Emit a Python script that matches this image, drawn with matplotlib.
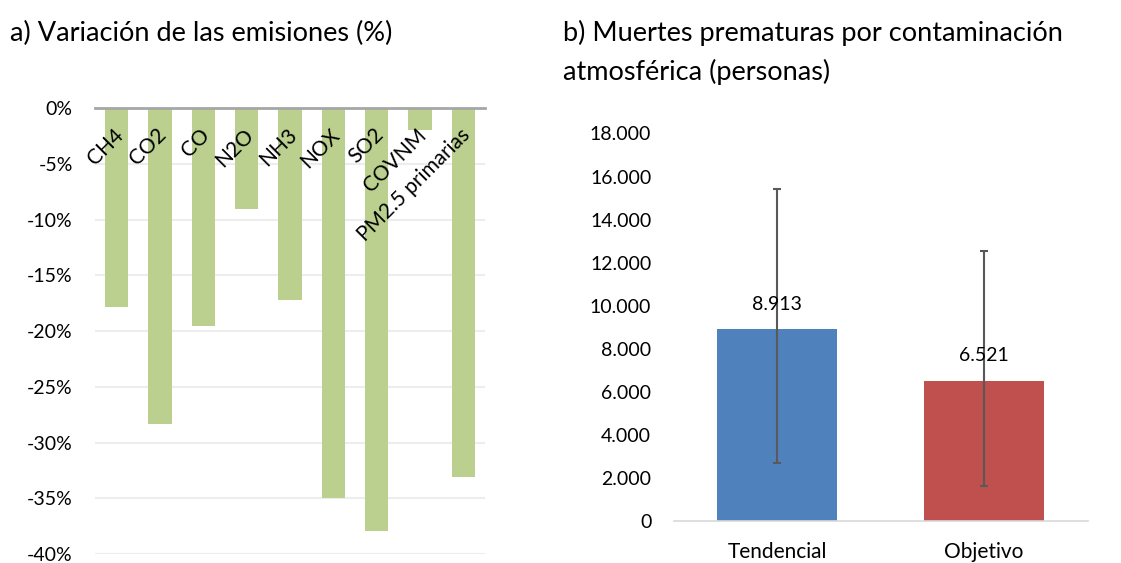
import matplotlib
matplotlib.use("Agg")
from matplotlib import pyplot as plt
from matplotlib.ticker import FuncFormatter

plt.rcParams["font.family"] = ["Lato", "DejaVu Sans"]

# panel a: emission change (%)
gases = ["CH4", "CO2", "CO", "N2O", "NH3", "NOX", "SO2", "COVNM", "PM2.5 primarias"]
variacion = [-17.8, -28.3, -19.5, -9.0, -17.2, -35.0, -37.9, -1.95, -33.1]

# panel b: premature deaths
escenarios = ["Tendencial", "Objetivo"]
muertes = [8913, 6521]
muertes_min = [2720, 1660]
muertes_max = [15420, 12560]
colores_b = ["#4F81BD", "#C0504D"]

W, H = 1121, 563
fig = plt.figure(figsize=(W / 100, H / 100), dpi=100)

# ---- a)
ax1 = fig.add_axes([95 / W, 1 - 554 / H, 390 / W, (554 - 108.3) / H])
x1 = range(len(gases))
ax1.bar(x1, variacion, width=0.54, color="#BBD08F", zorder=2)
ax1.set_xlim(-0.5, len(gases) - 0.5)
ax1.set_ylim(-40, 0)
ax1.set_yticks(range(-40, 1, 5))
ax1.yaxis.set_major_formatter(FuncFormatter(lambda v, p: "%d%%" % v))
ax1.grid(axis="y", color="#EDEDED", linewidth=1.5, zorder=0)
ax1.axhline(0, color="#A6A6A6", linewidth=2, zorder=3, clip_on=False)
for s in ax1.spines.values():
    s.set_visible(False)
ax1.set_xticks([])
ax1.tick_params(axis="y", length=0, pad=16, labelsize=14, labelcolor="black")
for i, g in enumerate(gases):
    ax1.text(i + 0.08, -2.1, g, rotation=45, rotation_mode="anchor",
             ha="right", va="center", fontsize=15, zorder=4)
fig.text(10 / W, 1 - 33 / H, "a) Variación de las emisiones (%)",
         fontsize=19.5, va="center", ha="left")

# ---- b)
ax2 = fig.add_axes([673.5 / W, 1 - 521.4 / H, 414 / W, (521.4 - 133.5) / H])
x2 = range(len(escenarios))
yerr = [[m - lo for m, lo in zip(muertes, muertes_min)],
        [hi - m for m, hi in zip(muertes, muertes_max)]]
ax2.bar(x2, muertes, width=0.58, color=colores_b, zorder=2)
ax2.errorbar(x2, muertes, yerr=yerr, fmt="none", ecolor="#595959",
             elinewidth=1.5, capsize=2.6, capthick=1.5, zorder=3)
for i, v in enumerate(muertes):
    ax2.annotate("{:,}".format(v).replace(",", "."), (i, v),
                 xytext=(0, 18), textcoords="offset points",
                 ha="center", va="center", fontsize=14, zorder=4)
ax2.set_xlim(-0.5, len(escenarios) - 0.5)
ax2.set_ylim(0, 18000)
ax2.set_yticks(range(0, 18001, 2000))
ax2.yaxis.set_major_formatter(
    FuncFormatter(lambda v, p: "{:,}".format(int(v)).replace(",", ".")))
ax2.set_xticks(list(x2))
ax2.set_xticklabels(escenarios)
for k in ["top", "right", "left"]:
    ax2.spines[k].set_visible(False)
ax2.spines["bottom"].set_color("#D9D9D9")
ax2.spines["bottom"].set_linewidth(1.2)
ax2.tick_params(axis="y", length=0, pad=16, labelsize=14)
ax2.tick_params(axis="x", length=0, pad=15, labelsize=15)
fig.text(563 / W, 1 - 33 / H, "b) Muertes prematuras por contaminación",
         fontsize=19.5, va="center", ha="left")
fig.text(563 / W, 1 - 72 / H, "atmosférica (personas)",
         fontsize=19.5, va="center", ha="left")

fig.savefig("out.png", dpi=100)
